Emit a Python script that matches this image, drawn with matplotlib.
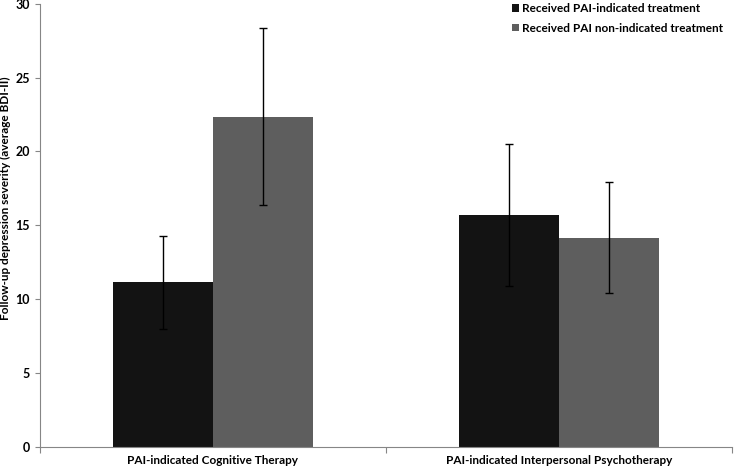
import numpy as np
import matplotlib.pyplot as plt

plt.rcParams['font.family'] = ['Lato', 'DejaVu Sans']

categories = ['PAI-indicated Cognitive Therapy', 'PAI-indicated Interpersonal Psychotherapy']
series_names = ['Received PAI-indicated treatment', 'Received PAI non-indicated treatment']
indicated = [11.15, 15.7]
indicated_err = [3.16, 4.8]
non_indicated = [22.35, 14.15]
non_indicated_err = [6.0, 3.75]
colors = ['#131313', '#5e5e5e']

fig = plt.figure(figsize=(7.38, 4.68), dpi=100)
ax = fig.add_axes([0.054, 0.045, 0.938, 0.947])

x = np.arange(len(categories))
w = 0.289
ax.bar(x - w/2, indicated, w, color=colors[0], label=series_names[0])
ax.bar(x + w/2, non_indicated, w, color=colors[1], label=series_names[1])
ax.errorbar(x - w/2, indicated, yerr=indicated_err, fmt='none', ecolor='black',
            elinewidth=1, capsize=3, capthick=1)
ax.errorbar(x + w/2, non_indicated, yerr=non_indicated_err, fmt='none', ecolor='black',
            elinewidth=1, capsize=3, capthick=1)

ax.set_xlim(-0.5, 1.5)
ax.set_ylim(0, 30)
ax.set_yticks([0, 5, 10, 15, 20, 25, 30])
ax.tick_params(axis='y', labelsize=9, length=3.6, color='#868686', pad=3.5)
for t in ax.get_yticklabels():
    t.set_fontweight('bold')

ax.set_xticks([-0.5, 0.5, 1.5])
ax.set_xticklabels([])
ax.set_xticks(x, minor=True)
ax.set_xticklabels(categories, minor=True, fontsize=8.5, fontweight='bold')
ax.tick_params(axis='x', which='major', length=4, color='#868686')
ax.tick_params(axis='x', which='minor', length=0, pad=6)

for s in ['top', 'right']:
    ax.spines[s].set_visible(False)
for s in ['left', 'bottom']:
    ax.spines[s].set_color('#868686')

fig.text(0.008, 0.577, 'Follow-up depression severity (average BDI-II)', fontsize=8.5,
         fontweight='bold', rotation=90, ha='center', va='center')

leg = ax.legend(loc='upper left', bbox_to_anchor=(0.68, 1.016), bbox_transform=fig.transFigure,
                frameon=False, handlelength=0.55, handleheight=0.55, handletextpad=0.3,
                labelspacing=0.75, prop={'size': 8.5, 'weight': 'bold'})

plt.savefig('out.png', dpi=100)
